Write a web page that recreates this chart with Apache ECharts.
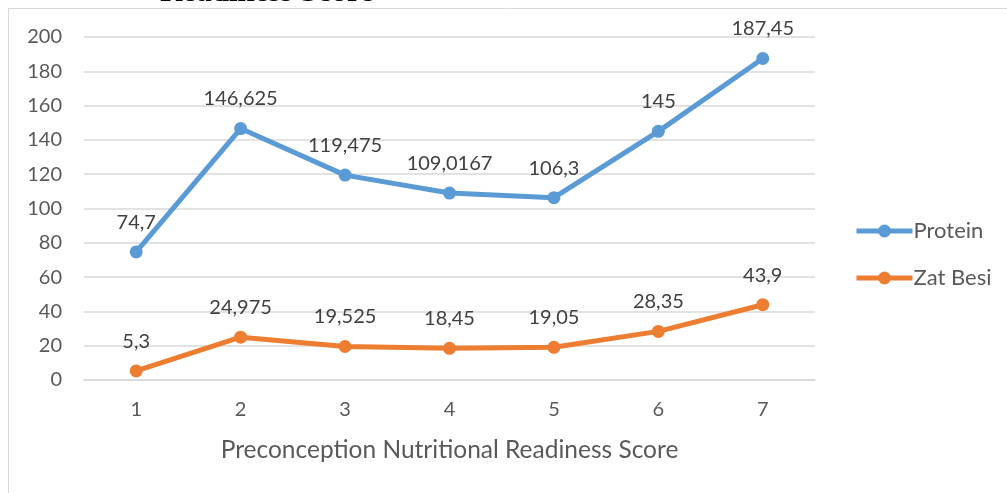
<!DOCTYPE html>
<html>
<head>
<meta charset="utf-8">
<script src="https://cdn.jsdelivr.net/npm/echarts@6/dist/echarts.min.js"></script>
<style>
  html, body { margin: 0; padding: 0; background: #ffffff; }
  #chart { width: 1007px; height: 493px; }
</style>
</head>
<body>
<div id="chart"></div>
<script>
// Scores on the x axis
const scores = ['1', '2', '3', '4', '5', '6', '7'];
// Mean intake per score
const protein = [74.7, 146.625, 119.475, 109.0167, 106.3, 145, 187.45];
const zatBesi = [5.3, 24.975, 19.525, 18.45, 19.05, 28.35, 43.9];
// Value axis ticks
const yTicks = [0, 20, 40, 60, 80, 100, 120, 140, 160, 180, 200];

const FONT = 'Lato, "Open Sans", sans-serif';
const commaDecimal = v => String(v).replace('.', ',');

const chart = echarts.init(document.getElementById('chart'), null, { renderer: 'canvas' });

function lineSeries(name, data, color) {
  return {
    name: name,
    type: 'line',
    data: data,
    symbol: 'circle',
    symbolSize: 13,
    lineStyle: { width: 5, color: color },
    itemStyle: { color: color },
    label: {
      show: true,
      position: 'top',
      distance: 13,
      fontFamily: FONT,
      fontSize: 20,
      color: '#404040',
      formatter: p => commaDecimal(p.value)
    },
    emphasis: { disabled: true },
    animation: false
  };
}

chart.setOption({
  backgroundColor: '#ffffff',
  animation: false,
  grid: { left: 84, right: 192, top: 37, bottom: 113, containLabel: false },
  graphic: [
    {
      type: 'rect',
      shape: { x: 8.5, y: 8.5, width: 1010, height: 500 },
      style: { fill: 'none', stroke: '#D9D9D9', lineWidth: 1 },
      silent: true
    },
    {
      type: 'text',
      x: 160,
      y: -23,
      style: {
        text: 'Readiness Score',
        font: 'bold 31px "Liberation Serif", serif',
        fill: '#000000',
        verticalAlign: 'top'
      },
      silent: true
    }
  ],
  legend: {
    orient: 'vertical',
    left: 849,
    top: 215,
    itemWidth: 56,
    itemHeight: 16,
    itemGap: 25,
    lineStyle: { width: 5 },
    textStyle: { fontFamily: FONT, fontSize: 22, color: '#595959', padding: [0, 0, 0, -4] },
    data: ['Protein', 'Zat Besi']
  },
  xAxis: {
    type: 'category',
    data: scores,
    boundaryGap: true,
    name: 'Preconception Nutritional Readiness Score',
    nameLocation: 'middle',
    nameGap: 58,
    nameTextStyle: { fontFamily: FONT, fontSize: 24.5, color: '#595959' },
    axisLine: { show: true, lineStyle: { color: '#D9D9D9', width: 1.5 } },
    axisTick: { show: false },
    axisLabel: { fontFamily: FONT, fontSize: 20, color: '#595959', margin: 20 },
    splitLine: { show: false }
  },
  yAxis: {
    type: 'value',
    min: yTicks[0],
    max: yTicks[yTicks.length - 1],
    interval: yTicks[1] - yTicks[0],
    axisLine: { show: false },
    axisTick: { show: false },
    axisLabel: { fontFamily: FONT, fontSize: 20, color: '#595959', margin: 22 },
    splitLine: { show: true, lineStyle: { color: '#D9D9D9', width: 1.5 } }
  },
  series: [
    lineSeries('Protein', protein, '#5B9BD5'),
    lineSeries('Zat Besi', zatBesi, '#ED7D31')
  ]
});
</script>
</body>
</html>
